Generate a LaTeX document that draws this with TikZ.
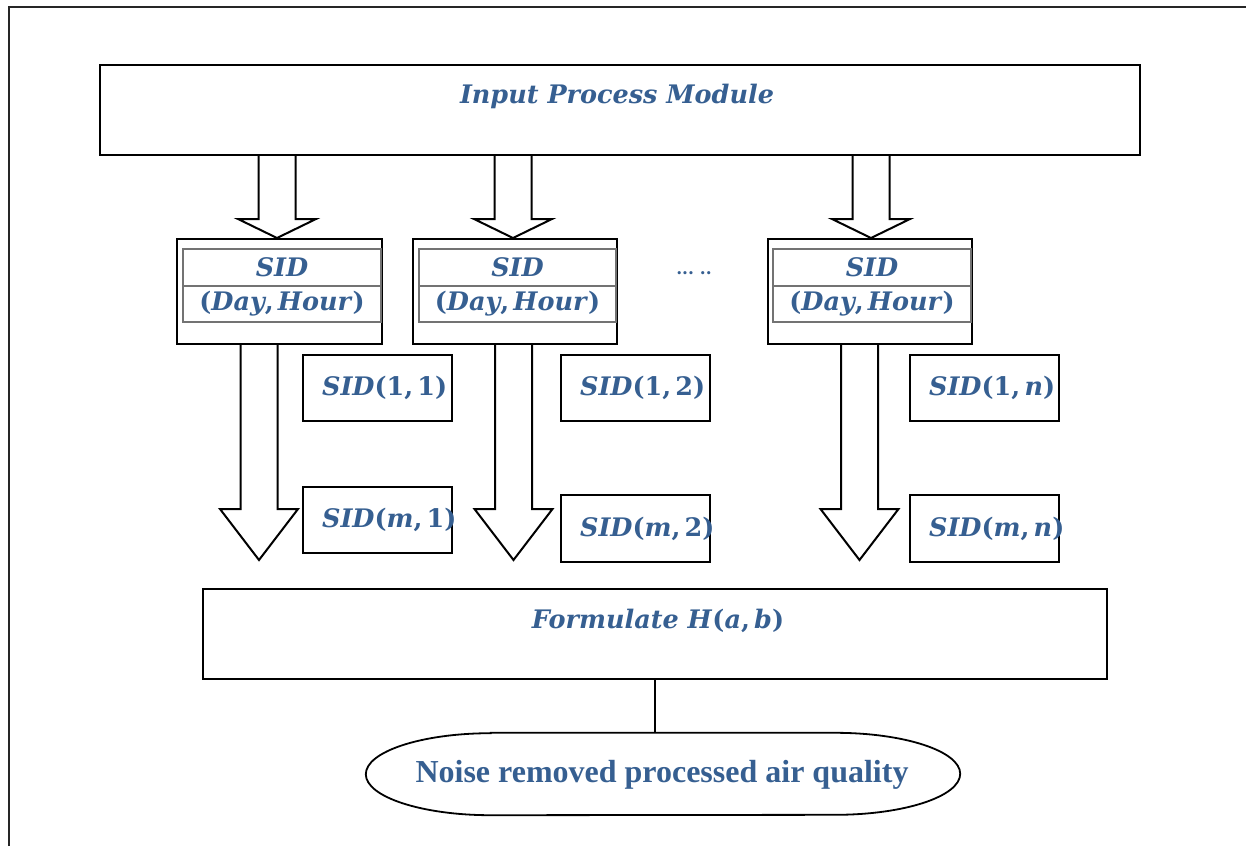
\documentclass[tikz,border=0pt]{standalone}
\usepackage{fontspec}
\setmainfont{DejaVu Serif}
\newfontfamily\timesfont{Liberation Serif}
\usetikzlibrary{calc}
\definecolor{txtblue}{RGB}{54,95,145}
\newcommand\barrow[4]{% x, ytop, yneck, ytip
  \draw[blockarr] (#1-18.5,#2) -- (#1-18.5,#3) -- (#1-39,#3) -- (#1,#4) -- (#1+39,#3) -- (#1+18.5,#3) -- (#1+18.5,#2);}
\begin{document}
\begin{tikzpicture}[x=1pt,y=-1pt,
  box/.style={draw=black, line width=2.2pt, inner sep=0pt},
  cell/.style={draw=black!55, line width=1.3pt, inner sep=0pt},
  lbl/.style={text=txtblue, font=\bfseries\fontsize{25.5}{25.5}\selectfont, inner sep=0pt},
  blockarr/.style={draw=black, line width=2pt, line join=miter},
  frame/.style={draw=black!85, line width=2.5pt}
]
\useasboundingbox (0,0) rectangle (1246,846);
\draw[frame] (9,846) -- (9,7) -- (1246,7);

% input module
\node[box, minimum width=1040pt, minimum height=90pt] (ipm) at (620,110) {};
\node[lbl] (ipmt) at (617,96) {\itshape Input Process Module};

% SID boxes
\node[box, minimum width=205pt, minimum height=105pt] (s1) at (279.5,291.5) {};
\node[box, minimum width=204pt, minimum height=105pt] (s2) at (515,291.5) {};
\node[box, minimum width=204pt, minimum height=105pt] (s3) at (870,291.5) {};
\node[cell, minimum width=198pt, minimum height=37pt] (s1a) at (282,267.5) {};
\node[cell, minimum width=198pt, minimum height=36pt] (s1b) at (282,304) {};
\node[cell, minimum width=197pt, minimum height=37pt] (s2a) at (517.5,267.5) {};
\node[cell, minimum width=197pt, minimum height=36pt] (s2b) at (517.5,304) {};
\node[cell, minimum width=198pt, minimum height=37pt] (s3a) at (872,267.5) {};
\node[cell, minimum width=198pt, minimum height=36pt] (s3b) at (872,304) {};
\foreach \n in {s1,s2,s3}{
  \node[lbl] (\n at) at (\n a) {\itshape SID};
  \node[lbl] (\n bt) at (\n b) {(\textit{Day},\,\textit{Hour})};
}
\node[text=txtblue, font=\bfseries\fontsize{17}{17}\selectfont, inner sep=0pt] (dots) at (694,273) {...\ ..};

% arrows from input module
\barrow{277}{155}{219}{238}
\barrow{513}{155}{219}{238}
\barrow{871}{155}{219}{238}

% down arrows
\barrow{259}{344}{509}{560}
\barrow{513.5}{344}{509}{560}
\barrow{859.5}{344}{509}{560}

% small SID boxes
\node[box, minimum width=149pt, minimum height=66pt] (b11) at (377.5,388) {};
\node[box, minimum width=149pt, minimum height=66pt] (b12) at (635.5,388) {};
\node[box, minimum width=149pt, minimum height=66pt] (b1n) at (984.5,388) {};
\node[box, minimum width=149pt, minimum height=66pt] (bm1) at (377.5,520) {};
\node[box, minimum width=149pt, minimum height=67pt] (bm2) at (635.5,528.5) {};
\node[box, minimum width=149pt, minimum height=67pt] (bmn) at (984.5,528.5) {};
\node[lbl, anchor=west] (t11) at ($(b11.west)+(20,0)$) {\textit{SID}(1,\,1)};
\node[lbl, anchor=west] (t12) at ($(b12.west)+(20,0)$) {\textit{SID}(1,\,2)};
\node[lbl, anchor=west] (t1n) at ($(b1n.west)+(20,0)$) {\textit{SID}(1,\,\textit{n})};
\node[lbl, anchor=west] (tm1) at ($(bm1.west)+(20,0)$) {\textit{SID}(\textit{m},\,1)};
\node[lbl, anchor=west] (tm2) at ($(bm2.west)+(20,0)$) {\textit{SID}(\textit{m},\,2)};
\node[lbl, anchor=west] (tmn) at ($(bmn.west)+(20,0)$) {\textit{SID}(\textit{m},\,\textit{n})};

% formulate
\node[box, minimum width=904pt, minimum height=90pt] (form) at (655,634) {};
\node[lbl] (formt) at (658,621) {\textit{Formulate H}(\textit{a},\,\textit{b})};

% result
\node[inner sep=0pt, minimum width=594pt, minimum height=82pt] (res) at (663,774) {};
\draw[line width=1.8pt] ($(res.north west)+(125,0)$) -- ($(res.north east)+(-125,0)$)
  arc[start angle=90, end angle=-90, x radius=125pt, y radius=41pt]
  -- ($(res.south west)+(125,0)$)
  arc[start angle=270, end angle=90, x radius=125pt, y radius=41pt] -- cycle;
\node[text=txtblue, font=\timesfont\bfseries\fontsize{32}{32}\selectfont, inner sep=0pt] (rest) at (662,775) {Noise removed processed air quality};

\draw[line width=1.5pt] (form.south) -- (form.south |- res.north);
\end{tikzpicture}
\end{document}
